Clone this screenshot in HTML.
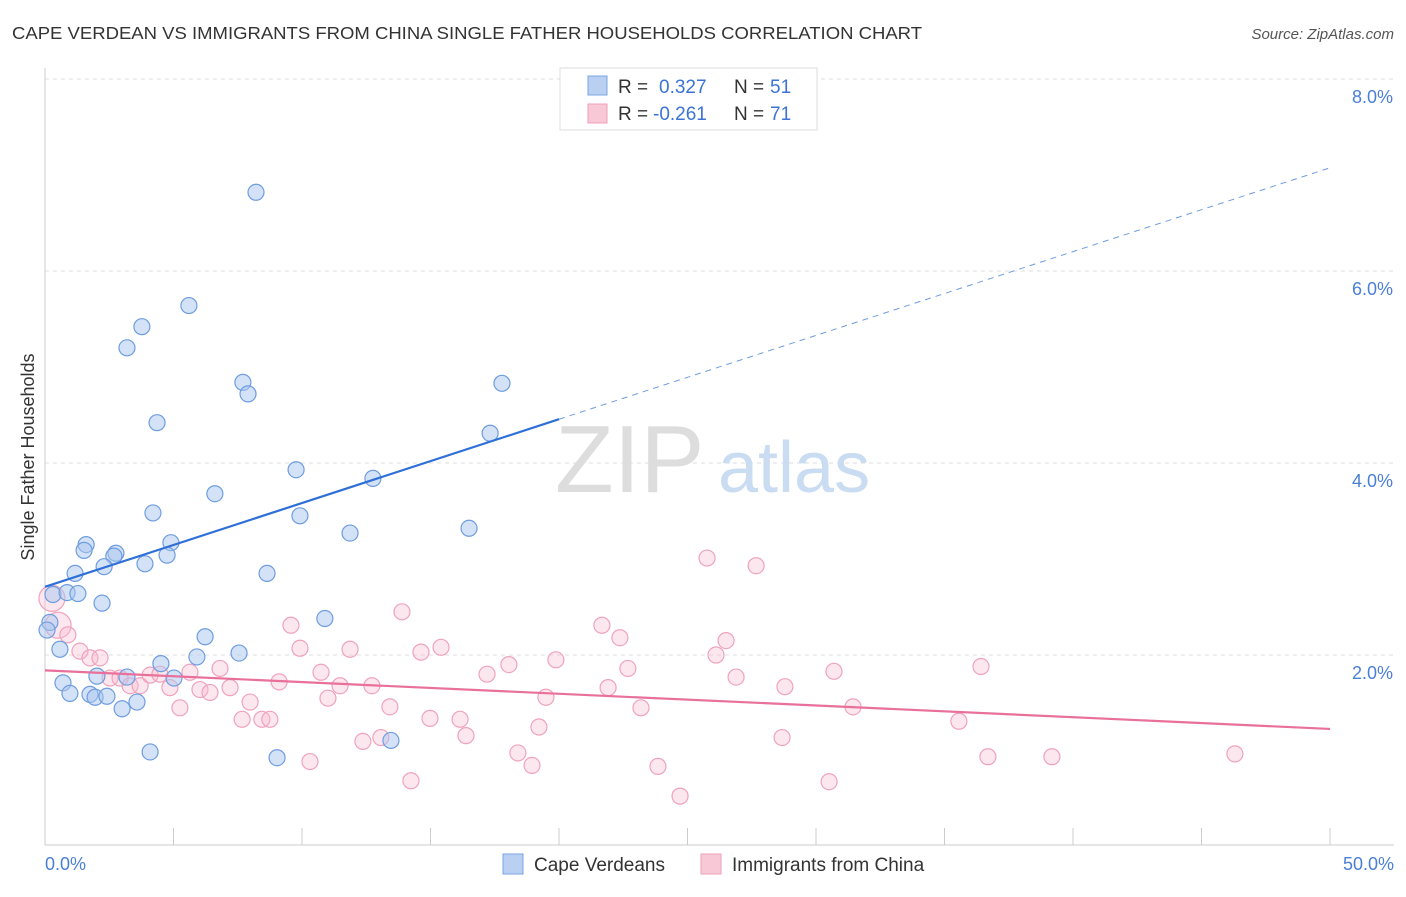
<!DOCTYPE html>
<html><head><meta charset="utf-8"><style>
body{margin:0;background:#fff;font-family:"Liberation Sans",sans-serif;}
svg text{font-family:"Liberation Sans",sans-serif;}
</style></head><body>
<svg width="1406" height="892" viewBox="0 0 1406 892">
<text x="12" y="39" font-size="17.5" fill="#333" textLength="910" lengthAdjust="spacingAndGlyphs">CAPE VERDEAN VS IMMIGRANTS FROM CHINA SINGLE FATHER HOUSEHOLDS CORRELATION CHART</text>
<text x="1394" y="39" font-size="15" fill="#555" text-anchor="end" font-style="italic">Source: ZipAtlas.com</text>
<g id="grid"></g>
<g>
<text x="555" y="492" font-size="96" fill="#ddd" font-family="Liberation Serif">ZIP</text>
<text x="718" y="492" font-size="72" fill="#c9dcf2">atlas</text>
</g>
<line x1="45" y1="68" x2="45" y2="845" stroke="#ccc"/>
<line x1="45" y1="845" x2="1394" y2="845" stroke="#ccc"/>
<g id="xticks"></g>
<g id="ylabels"></g>
<text x="45" y="870" font-size="18" fill="#4a7fd6">0.0%</text>
<text x="1394" y="870" font-size="18" fill="#4a7fd6" text-anchor="end">50.0%</text>
<text transform="translate(34,457) rotate(-90)" font-size="18" fill="#333" text-anchor="middle">Single Father Households</text>
<g id="pink"></g>
<g id="blue"></g>
<g id="trends"></g>
<g>
<rect x="560" y="68" width="257" height="62" fill="#fff" stroke="#ddd"/>
<rect x="588" y="76" width="19" height="19" fill="#b9d0f3" stroke="#7aa5e3"/>
<rect x="588" y="104" width="19" height="19" fill="#f9c8d6" stroke="#ef9fb9"/>
<text x="618" y="93" font-size="19" fill="#333">R =</text>
<text x="659" y="93" font-size="19" fill="#3b73d6">0.327</text>
<text x="734" y="93" font-size="19" fill="#333">N =</text>
<text x="770" y="93" font-size="19" fill="#3b73d6">51</text>
<text x="618" y="120" font-size="19" fill="#333">R =</text>
<text x="653" y="120" font-size="19" fill="#3b73d6">-0.261</text>
<text x="734" y="120" font-size="19" fill="#333">N =</text>
<text x="770" y="120" font-size="19" fill="#3b73d6">71</text>
</g>
<g>
<rect x="503" y="854" width="20" height="20" fill="#b9d0f3" stroke="#7aa5e3"/>
<text x="534" y="871" font-size="19" fill="#333">Cape Verdeans</text>
<rect x="701" y="854" width="20" height="20" fill="#f9c8d6" stroke="#ef9fb9"/>
<text x="732" y="871" font-size="19" fill="#333">Immigrants from China</text>
</g>
</svg>
<script>
const yTicks=[2,4,6,8];
const yTickLabels=["2.0%","4.0%","6.0%","8.0%"];
const xTickVals=[0,5,10,15,20,25,30,35,40,45,50];
const blueX=[8.21,5.60,3.77,3.19,7.70,7.90,17.78,4.36,17.32,9.77,12.76,6.61,4.20,9.92,16.50,11.87,1.60,4.90,1.52,2.76,2.68,4.75,3.89,2.30,1.17,8.64,0.31,0.86,1.28,2.22,10.89,0.19,6.23,0.58,7.55,5.91,4.51,0.70,2.02,3.19,5.02,0.97,1.75,1.95,2.41,3.58,3.00,13.46,4.09,9.03,0.08];
const blueY=[6.82,5.64,5.42,5.20,4.84,4.72,4.83,4.42,4.31,3.93,3.84,3.68,3.48,3.45,3.32,3.27,3.15,3.17,3.09,3.06,3.03,3.04,2.95,2.92,2.85,2.85,2.63,2.65,2.64,2.54,2.38,2.34,2.19,2.06,2.02,1.98,1.91,1.71,1.78,1.77,1.76,1.60,1.59,1.56,1.57,1.51,1.44,1.11,0.99,0.93,2.26];
const pinkX=[0.27,0.51,0.89,1.36,1.75,2.14,2.53,2.92,3.31,3.70,4.09,4.47,4.86,5.25,5.64,6.03,6.42,6.81,7.20,7.67,7.98,8.44,8.75,9.11,9.57,9.92,10.31,10.74,11.01,11.48,11.87,12.37,12.72,13.07,13.42,13.89,14.24,14.63,14.98,15.41,16.15,16.38,17.20,18.05,18.40,18.95,19.22,19.49,19.88,21.67,21.91,22.37,22.68,23.19,23.85,24.71,25.76,26.11,26.50,26.89,27.67,28.68,28.79,30.51,30.70,31.44,35.56,36.42,36.69,39.18,46.30];
const pinkY=[2.59,2.31,2.21,2.04,1.97,1.97,1.76,1.76,1.68,1.68,1.79,1.80,1.66,1.45,1.82,1.64,1.61,1.86,1.66,1.33,1.51,1.33,1.33,1.72,2.31,2.07,0.89,1.82,1.55,1.68,2.06,1.10,1.68,1.14,1.46,2.45,0.69,2.03,1.34,2.08,1.33,1.16,1.80,1.90,0.98,0.85,1.25,1.56,1.95,2.31,1.66,2.18,1.86,1.45,0.84,0.53,3.01,2.00,2.15,1.77,2.93,1.14,1.67,0.68,1.83,1.46,1.31,1.88,0.94,0.94,0.97];
const blueTrend=[2.71,0.0873];
const pinkTrend=[1.84,-0.0122];
const NS="http://www.w3.org/2000/svg";
function sx(v){return 45+v*25.7;}
function sy(v){return 847-v*96;}
function mk(tag,attrs,parent){const e=document.createElementNS(NS,tag);for(const k in attrs)e.setAttribute(k,attrs[k]);parent.appendChild(e);return e;}
const grid=document.getElementById('grid'),yl=document.getElementById('ylabels'),xt=document.getElementById('xticks');
yTicks.forEach((t,i)=>{
 const l=mk('line',{x1:45,x2:1394,y1:sy(t),y2:sy(t),stroke:'#ddd','stroke-dasharray':'4,4'},grid);
 
 
 const tx=mk('text',{x:1393,y:sy(t)+24,'font-size':18,fill:'#4a7fd6','text-anchor':'end'},yl);
 tx.textContent=yTickLabels[i];
 
 
});
xTickVals.forEach(t=>{
 const l=mk('line',{x1:sx(t),x2:sx(t),y1:828,y2:845,stroke:'#ccc'},xt);
 
 
});
const pg=document.getElementById('pink');
pinkX.forEach((x,i)=>{
 const r=i<2?13:8;
 const c=mk('circle',{cx:sx(x),cy:sy(pinkY[i]),r:r,fill:'rgba(248,185,205,0.35)',stroke:'#efa3bd','stroke-width':1.2},pg);
 
 
});
const bg=document.getElementById('blue');
blueX.forEach((x,i)=>{
 const c=mk('circle',{cx:sx(x),cy:sy(blueY[i]),r:8,fill:'rgba(170,198,240,0.5)',stroke:'#6e9de0','stroke-width':1.2},bg);
 
 
});
const tg=document.getElementById('trends');
const bf=v=>blueTrend[0]+blueTrend[1]*v, pf=v=>pinkTrend[0]+pinkTrend[1]*v;
let a=mk('line',{x1:sx(0),y1:sy(bf(0)),x2:sx(20),y2:sy(bf(20)),stroke:'#2e6fd8','stroke-width':2.2},tg);


a=mk('line',{x1:sx(20),y1:sy(bf(20)),x2:sx(50),y2:sy(bf(50)),stroke:'#6e9de0','stroke-width':1,'stroke-dasharray':'6,5'},tg);


a=mk('line',{x1:sx(0),y1:sy(pf(0)),x2:sx(50),y2:sy(pf(50)),stroke:'#e8709a','stroke-width':2.2},tg);


</script>
</body></html>
